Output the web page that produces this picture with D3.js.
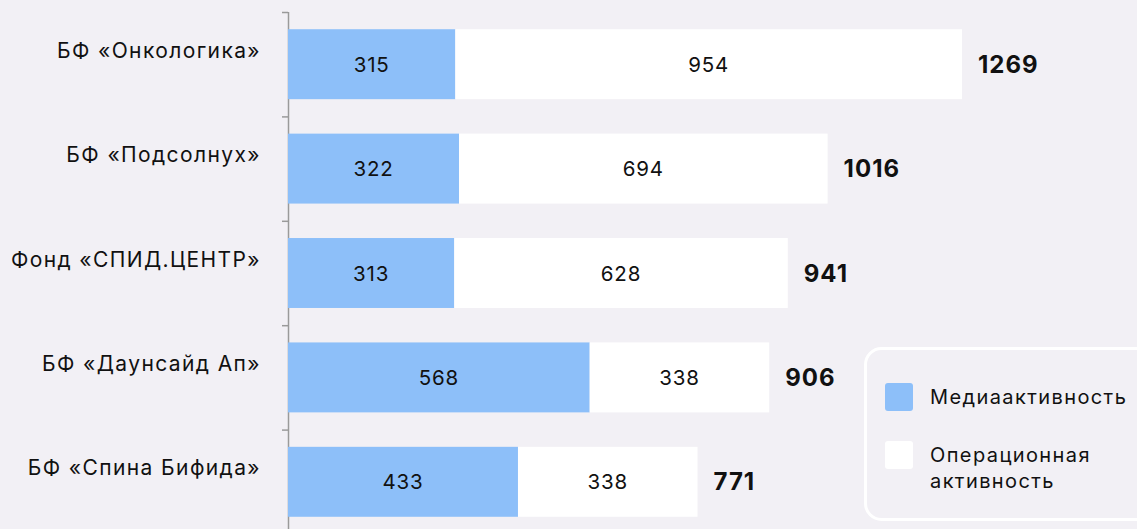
<html>
<head>
  <meta charset="utf-8">
  <script src="https://d3js.org/d3.v7.min.js"></script>
  <style>
    body { margin:0; background:#f2f0f5; }
    text { font-family: Inter, "Noto Sans", sans-serif; }
  </style>
</head>
<body>
<svg id="chart" width="1137" height="529"></svg>
<script>
  var categories = ["БФ «Онкологика»", "БФ «Подсолнух»", "Фонд «СПИД.ЦЕНТР»", "БФ «Даунсайд Ап»", "БФ «Спина Бифида»"];
  var media = [315, 322, 313, 568, 433];
  var operational = [954, 694, 628, 338, 338];
  var totals = [1269, 1016, 941, 906, 771];
  var seriesNames = ["Медиаактивность", ["Операционная", "активность"]];
  var colors = ["#8dbff9", "#ffffff"];

  var svg = d3.select("#chart");
  svg.append("rect").attr("width", 1137).attr("height", 529).attr("fill", "#f2f0f5");

  var x = d3.scaleLinear().domain([0, 1269]).range([288, 962]);
  var y = d3.scaleBand().domain(categories).range([12, 534])
      .paddingInner(0.33).paddingOuter(0.165);

  var rows = categories.map((c, i) => ({cat: c, media: media[i], op: operational[i], total: totals[i]}));

  // axis line + ticks at band boundaries
  var g = svg.append("g");
  g.append("line").attr("x1", 288.5).attr("x2", 288.5).attr("y1", 12).attr("y2", 534)
      .attr("stroke", "#9a9a9a").attr("stroke-width", 1.5);
  g.selectAll(".tick").data(d3.range(categories.length + 1)).enter()
      .append("line")
      .attr("x1", 282).attr("x2", 288)
      .attr("y1", i => y.range()[0] + i * y.step() + 0.5)
      .attr("y2", i => y.range()[0] + i * y.step() + 0.5)
      .attr("stroke", "#9a9a9a").attr("stroke-width", 1.5);

  // bars
  svg.selectAll(".m").data(rows).enter().append("rect")
      .attr("x", x(0)).attr("y", d => y(d.cat))
      .attr("width", d => x(d.media) - x(0)).attr("height", y.bandwidth())
      .attr("fill", colors[0]);
  svg.selectAll(".o").data(rows).enter().append("rect")
      .attr("x", d => x(d.media)).attr("y", d => y(d.cat))
      .attr("width", d => x(d.media + d.op) - x(d.media)).attr("height", y.bandwidth())
      .attr("fill", colors[1]);

  // inner labels
  svg.selectAll(".ml").data(rows).enter().append("text")
      .attr("x", d => (x(0) + x(d.media)) / 2).attr("y", d => y(d.cat) + y.bandwidth() / 2)
      .attr("text-anchor", "middle").attr("dominant-baseline", "central")
      .attr("font-size", 20.5).attr("letter-spacing", 0.8).attr("fill", "#111").text(d => d.media);
  svg.selectAll(".ol").data(rows).enter().append("text")
      .attr("x", d => (x(d.media) + x(d.media + d.op)) / 2).attr("y", d => y(d.cat) + y.bandwidth() / 2)
      .attr("text-anchor", "middle").attr("dominant-baseline", "central")
      .attr("font-size", 20.5).attr("letter-spacing", 0.8).attr("fill", "#111").text(d => d.op);

  // totals
  svg.selectAll(".tl").data(rows).enter().append("text")
      .attr("x", d => x(d.total) + 16).attr("y", d => y(d.cat) + y.bandwidth() / 2)
      .attr("dominant-baseline", "central")
      .attr("font-size", 24).attr("font-weight", "bold").attr("letter-spacing", 1)
      .attr("fill", "#111").text(d => d.total);

  // category labels
  svg.selectAll(".cl").data(rows).enter().append("text")
      .attr("x", 261).attr("y", d => y(d.cat) + y.bandwidth() / 2 - 14)
      .attr("text-anchor", "end").attr("dominant-baseline", "central")
      .attr("font-size", 21).attr("letter-spacing", 1.4).attr("fill", "#111").text(d => d.cat);

  // legend
  var lg = svg.append("g");
  lg.append("rect").attr("x", 865.5).attr("y", 348.5).attr("width", 290).attr("height", 171)
      .attr("rx", 16).attr("fill", "#f2f0f5").attr("stroke", "#ffffff").attr("stroke-width", 3);
  lg.append("rect").attr("x", 885).attr("y", 383).attr("width", 28).attr("height", 28)
      .attr("rx", 3).attr("fill", colors[0]);
  lg.append("rect").attr("x", 885).attr("y", 441).attr("width", 28).attr("height", 28)
      .attr("rx", 3).attr("fill", colors[1]);
  lg.selectAll(".lt").data([[seriesNames[0], 404], [seriesNames[1][0], 462], [seriesNames[1][1], 488]])
      .enter().append("text")
      .attr("x", 930).attr("y", d => d[1]).attr("font-size", 20).attr("letter-spacing", 1.4)
      .attr("fill", "#111").text(d => d[0]);
</script>
</body>
</html>
